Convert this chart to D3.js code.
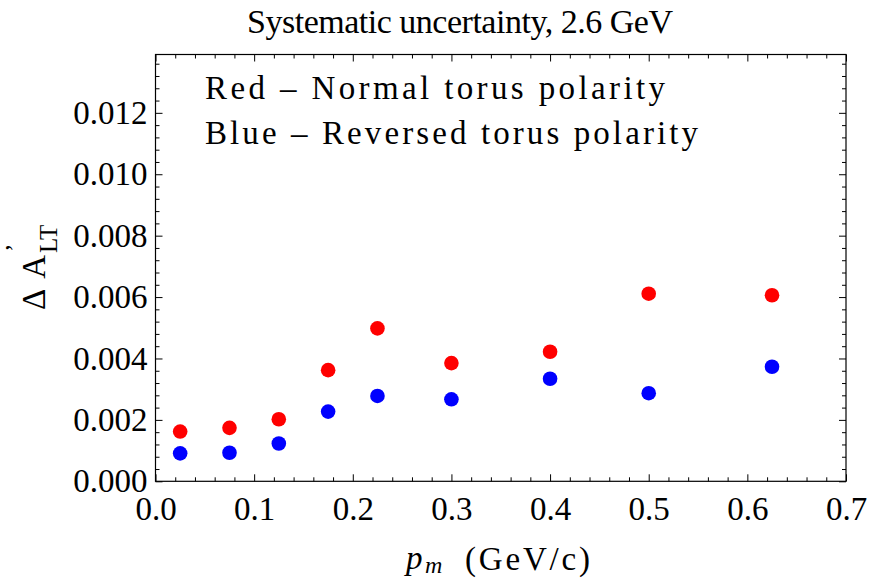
<!DOCTYPE html>
<html><head><meta charset="utf-8">
<script src="https://cdn.jsdelivr.net/npm/d3@7"></script>
<style>
html,body{margin:0;padding:0;background:#fff;}
svg{display:block;}
svg text{font-family:"Liberation Serif","Times New Roman",Times,"DejaVu Serif",serif !important;fill:#000;}
</style></head>
<body>
<svg id="chart" width="870" height="578"></svg>
<script>
const pm = [0.025, 0.075, 0.125, 0.175, 0.225, 0.3, 0.4, 0.5, 0.625];
const redVals = [0.00162, 0.00174, 0.00202, 0.00362, 0.00498, 0.00385, 0.00422, 0.00611, 0.00606];
const blueVals = [0.00091, 0.00093, 0.00123, 0.00227, 0.00278, 0.00267, 0.00334, 0.00287, 0.00373];
const xTicks = [0, 0.1, 0.2, 0.3, 0.4, 0.5, 0.6, 0.7];
const yTicks = [0, 0.002, 0.004, 0.006, 0.008, 0.010, 0.012];
const titleText = "Systematic uncertainty, 2.6 GeV";
const legendLines = ["Red \u2013 Normal torus polarity", "Blue \u2013 Reversed torus polarity"];

const FONT = "'Liberation Serif','Times New Roman',Times,'DejaVu Serif',serif";
const svg = d3.select("#chart").attr("font-family", FONT);
const L = 155.5, R = 846, T = 54.5, B = 481.3;
const x = d3.scaleLinear().domain([0, 0.7]).range([L, R]);
const y = d3.scaleLinear().domain([0, 0.0139]).range([B, T]);

const xMinor = d3.range(0, 0.7001, 0.02).map(v => +v.toFixed(3)).filter(v => !xTicks.some(t => Math.abs(t - v) < 1e-9));
const yMinor = d3.range(0, 0.0139, 0.0004).map(v => +v.toFixed(5)).filter(v => !yTicks.some(t => Math.abs(t - v) < 1e-9));

const FS = 33;
function styleAxis(g) {
  g.attr("font-family", FONT);
  g.select(".domain").remove();
  g.selectAll(".tick line").attr("stroke", "#000").attr("stroke-width", 1);
  g.selectAll(".tick text").attr("font-size", FS).attr("font-family", FONT);
}
svg.append("g").attr("transform", `translate(0,${B})`)
  .call(d3.axisBottom(x).tickValues(xTicks).tickSize(-7).tickPadding(15).tickFormat(d3.format(".1f"))).call(styleAxis);
svg.append("g").attr("transform", `translate(0,${B})`)
  .call(d3.axisBottom(x).tickValues(xMinor).tickSize(-4).tickFormat("")).call(styleAxis);
svg.append("g").attr("transform", `translate(0,${T})`)
  .call(d3.axisTop(x).tickValues(xTicks).tickSize(-7).tickFormat("")).call(styleAxis);
svg.append("g").attr("transform", `translate(0,${T})`)
  .call(d3.axisTop(x).tickValues(xMinor).tickSize(-4).tickFormat("")).call(styleAxis);
svg.append("g").attr("transform", `translate(${L},0)`)
  .call(d3.axisLeft(y).tickValues(yTicks).tickSize(-7).tickPadding(8).tickFormat(d3.format(".3f"))).call(styleAxis);
svg.append("g").attr("transform", `translate(${L},0)`)
  .call(d3.axisLeft(y).tickValues(yMinor).tickSize(-4).tickFormat("")).call(styleAxis);
svg.append("g").attr("transform", `translate(${R},0)`)
  .call(d3.axisRight(y).tickValues(yTicks).tickSize(-7).tickFormat("")).call(styleAxis);
svg.append("g").attr("transform", `translate(${R},0)`)
  .call(d3.axisRight(y).tickValues(yMinor).tickSize(-4).tickFormat("")).call(styleAxis);

svg.append("rect").attr("x", L).attr("y", T).attr("width", R - L).attr("height", B - T)
  .attr("fill", "none").attr("stroke", "#000").attr("stroke-width", 1.2);

const redData = pm.map((p, i) => [p, redVals[i]]);
const blueData = pm.map((p, i) => [p, blueVals[i]]);
svg.append("g").selectAll("circle").data(redData).join("circle")
  .attr("cx", d => x(d[0])).attr("cy", d => y(d[1])).attr("r", 7.3).attr("fill", "#ff0000");
svg.append("g").selectAll("circle").data(blueData).join("circle")
  .attr("cx", d => x(d[0])).attr("cy", d => y(d[1])).attr("r", 7.3).attr("fill", "#0000ff");

svg.append("text").attr("x", 247).attr("y", 33).attr("font-size", 34)
  .attr("textLength", 426).attr("lengthAdjust", "spacing").text(titleText);

svg.append("text").attr("x", 205).attr("y", 98.5).attr("font-size", FS)
  .attr("textLength", 460).attr("lengthAdjust", "spacing").text(legendLines[0]);
svg.append("text").attr("x", 205).attr("y", 143.5).attr("font-size", FS)
  .attr("textLength", 493).attr("lengthAdjust", "spacing").text(legendLines[1]);

const xl = svg.append("g");
xl.append("text").attr("x", 406).attr("y", 569).attr("font-size", FS).attr("font-style", "italic").text("p");
xl.append("text").attr("x", 425).attr("y", 573).attr("font-size", 24).attr("font-style", "italic").text("m");
xl.append("text").attr("x", 465).attr("y", 570).attr("font-size", FS)
  .attr("textLength", 125).attr("lengthAdjust", "spacing").text("(GeV/c)");

const yl = svg.append("g").attr("transform", "translate(45,310) rotate(-90)");
yl.append("text").attr("x", 0).attr("y", 0).attr("font-size", FS)
  .attr("textLength", 55).attr("lengthAdjust", "spacing").text("\u0394 A");
yl.append("text").attr("x", 57).attr("y", 12).attr("font-size", 25).text("LT");
yl.append("text").attr("x", 58).attr("y", -22).attr("font-size", 25).text("\u2019");
</script>
</body></html>
